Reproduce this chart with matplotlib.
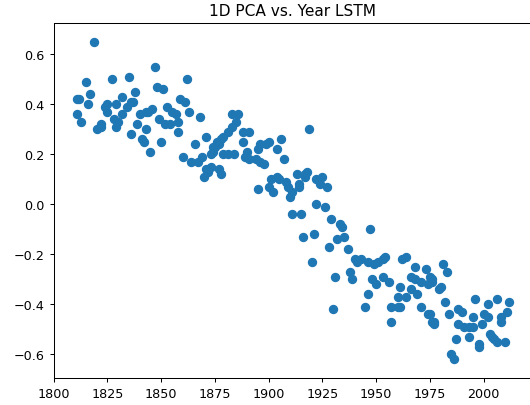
import matplotlib
matplotlib.use('Agg')

import matplotlib.pyplot as plt

years = [1811, 1811, 1812, 1813, 1815, 1816, 1817, 1819, 1820, 1822,
         1822, 1824, 1825, 1825, 1827, 1828, 1829, 1829, 1830, 1832,
         1832, 1834, 1835, 1836, 1837, 1836, 1838, 1839, 1840, 1841,
         1842, 1843, 1843, 1844, 1845, 1846, 1847, 1848, 1849, 1850,
         1851, 1852, 1853, 1854, 1855, 1857, 1858, 1858, 1859, 1860,
         1861, 1862, 1863, 1864, 1866, 1867, 1868, 1869, 1870, 1871,
         1871, 1873, 1872, 1873, 1874, 1874, 1876, 1875, 1877, 1877,
         1878, 1878, 1879, 1879, 1881, 1881, 1883, 1883, 1884, 1885,
         1886, 1888, 1888, 1890, 1889, 1891, 1891, 1894, 1895, 1895,
         1896, 1896, 1898, 1899, 1900, 1900, 1901, 1902, 1904, 1904,
         1905, 1906, 1907, 1908, 1909, 1910, 1911, 1911, 1913, 1914,
         1914, 1915, 1916, 1917, 1917, 1918, 1919, 1920, 1921, 1922,
         1922, 1924, 1925, 1926, 1927, 1928, 1929, 1930, 1931, 1932,
         1933, 1934, 1935, 1937, 1938, 1939, 1940, 1941, 1943, 1945,
         1946, 1946, 1947, 1948, 1949, 1950, 1951, 1953, 1953, 1954,
         1956, 1957, 1957, 1960, 1960, 1961, 1961, 1962, 1964, 1964,
         1966, 1966, 1968, 1968, 1969, 1971, 1971, 1973, 1974, 1974,
         1975, 1975, 1976, 1976, 1976, 1977, 1977, 1979, 1980, 1981,
         1982, 1983, 1984, 1985, 1986, 1987, 1988, 1988, 1990, 1991,
         1993, 1993, 1995, 1995, 1996, 1998, 1998, 1999, 2000, 2002,
         2002, 2003, 2004, 2005, 2006, 2006, 2008, 2008, 2010, 2011,
         2012]

pca = [0.42, 0.36, 0.42, 0.33, 0.49, 0.40, 0.44, 0.65, 0.30, 0.31,
       0.32, 0.39, 0.37, 0.40, 0.50, 0.34, 0.40, 0.31, 0.33, 0.36,
       0.43, 0.39, 0.51, 0.41, 0.41, 0.28, 0.45, 0.32, 0.36, 0.26,
       0.25, 0.30, 0.37, 0.37, 0.21, 0.38, 0.55, 0.47, 0.34, 0.25,
       0.46, 0.32, 0.39, 0.32, 0.37, 0.36, 0.33, 0.29, 0.42, 0.19,
       0.41, 0.50, 0.37, 0.17, 0.24, 0.17, 0.35, 0.19, 0.11, 0.27,
       0.14, 0.15, 0.13, 0.20, 0.21, 0.23, 0.25, 0.23, 0.14, 0.24,
       0.12, 0.26, 0.27, 0.20, 0.20, 0.29, 0.36, 0.31, 0.20, 0.33,
       0.36, 0.25, 0.29, 0.21, 0.19, 0.29, 0.18, 0.18, 0.22, 0.06,
       0.17, 0.24, 0.16, 0.24, 0.07, 0.25, 0.10, 0.05, 0.11, 0.22,
       0.10, 0.26, 0.18, 0.09, 0.07, 0.03, -0.04, 0.05, 0.12, 0.07,
       0.08, -0.04, -0.13, 0.12, 0.11, 0.13, 0.30, -0.23, -0.12, 0.10,
       0.00, 0.08, 0.11, -0.01, 0.07, -0.17, -0.06, -0.42, -0.29, -0.14,
       -0.08, -0.09, -0.13, -0.18, -0.27, -0.30, -0.22, -0.23, -0.22, -0.41,
       -0.36, -0.23, -0.10, -0.30, -0.24, -0.32, -0.23, -0.29, -0.22, -0.21,
       -0.31, -0.47, -0.41, -0.37, -0.41, -0.41, -0.33, -0.22, -0.37, -0.21,
       -0.29, -0.34, -0.25, -0.30, -0.36, -0.41, -0.31, -0.26, -0.44, -0.32,
       -0.29, -0.44, -0.30, -0.47, -0.31, -0.48, -0.47, -0.34, -0.33, -0.24,
       -0.39, -0.27, -0.44, -0.60, -0.62, -0.54, -0.42, -0.48, -0.43, -0.49,
       -0.49, -0.53, -0.45, -0.49, -0.38, -0.57, -0.56, -0.48, -0.44, -0.40,
       -0.45, -0.52, -0.53, -0.54, -0.38, -0.55, -0.47, -0.45, -0.55, -0.43,
       -0.39]

x_ticks = [1800, 1825, 1850, 1875, 1900, 1925, 1950, 1975, 2000]
y_ticks = [-0.6, -0.4, -0.2, 0.0, 0.2, 0.4, 0.6]

dpi = 92
fig = plt.figure(figsize=(530 / dpi, 406 / dpi), dpi=dpi)
# right spine sits just past the image edge, like the reference crop
ax = fig.add_axes([53.5 / 530, 27 / 406, 477.5 / 530, 355.5 / 406])

ax.scatter(years, pca, s=40, color='#1f77b4')

ax.set_xlim(1800, 2022)
ax.set_ylim(-0.696, 0.726)
ax.set_xticks(x_ticks)
ax.set_yticks(y_ticks)
ax.set_title('1D PCA vs. Year LSTM')

fig.savefig('out.png', dpi=dpi)
plt.close(fig)
